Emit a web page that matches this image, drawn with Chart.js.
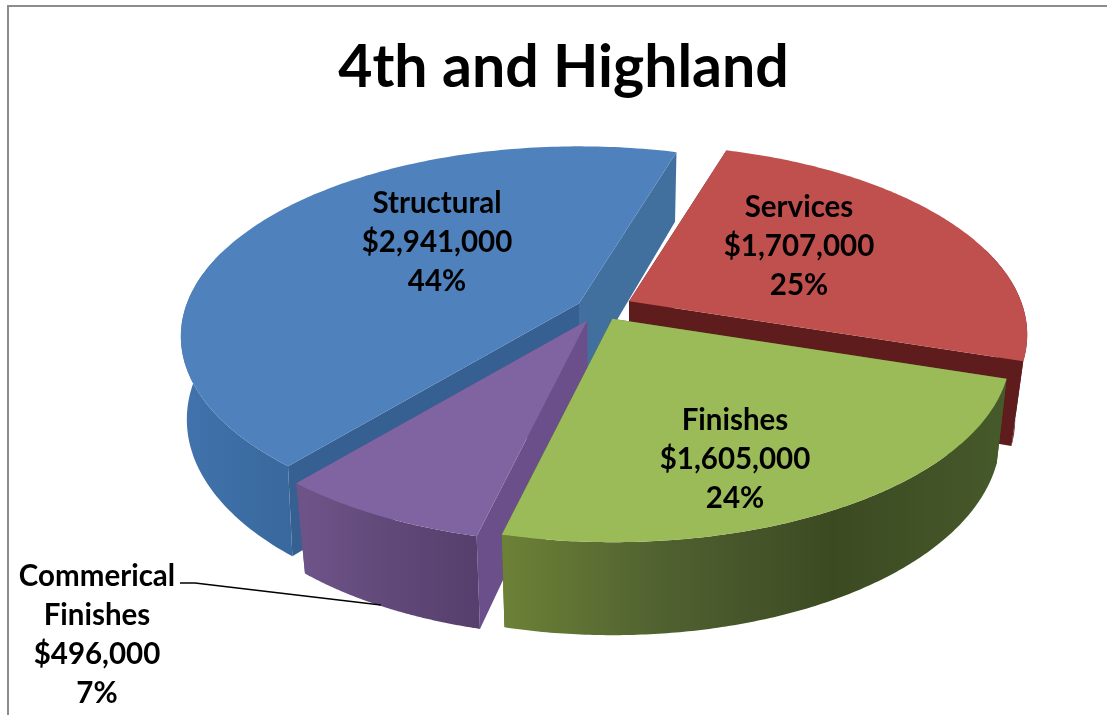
<!DOCTYPE html>
<html lang="en">

<head>
  <meta charset="UTF-8" />
  <title>4th and Highland</title>
  <script src="https://cdn.jsdelivr.net/npm/chart.js"></script>
  <style>
    body {
      margin: 0;
      background: #fff;
    }

    canvas {
      display: block;
    }
  </style>
</head>

<body>
  <canvas id="pie" width="1107" height="715"></canvas>

  <script>
    const categories = ['Structural', 'Services', 'Finishes', 'Commerical Finishes'];
    const costs = [2941000, 1707000, 1605000, 496000];
    const percents = ['44%', '25%', '24%', '7%'];
    const labelLines = [['Structural'], ['Services'], ['Finishes'], ['Commerical', 'Finishes']];
    const topColors = ['#4f81bd', '#c0504d', '#9bbb59', '#8064a2'];
    const explode = [24, 33, 25, 28];

    // side shading, left to right
    const wallColors = [
      ['#4272ab', '#3c6da4', '#38689c'],
      ['#5e1c1c', '#5e1c1c', '#5e1c1c'],
      ['#6c8136', '#4f6030', '#3c4a22', '#46592a'],
      ['#6e5388', '#604878', '#563f6c']
    ];
    const startFaceColors = ['#376092', '#5e1c1c', '#4a5c28', '#6b4f8a'];
    const endFaceColors = ['#41709f', '#5e1c1c', '#4a5c28', '#6b4f8a'];

    const paintOrder = [0, 1, 3, 2];
    const labelAnchors = [
      { x: 437, y: 203 },
      { x: 799, y: 207 },
      { x: 735, y: 420 },
      { x: 97, y: 576 }
    ];

    const pivot = { x: 600, y: 308.5 };
    const pieRadius = 392;
    const squash = 0.47;
    const perspective = 0.175;
    const bottomTaper = [0.985, 0.97, 0.975, 0.97];

    function project(radius, angle) {
      const X = radius * Math.cos(angle);
      const Y = radius * Math.sin(angle);
      const w = 1 / (1 - perspective * Y / pieRadius);
      return { x: X * w, y: Y * squash * w };
    }

    function fillPoints(ctx, pts, color) {
      ctx.beginPath();
      pts.forEach((p, i) => (i ? ctx.lineTo(p.x, p.y) : ctx.moveTo(p.x, p.y)));
      ctx.closePath();
      ctx.fillStyle = color;
      ctx.fill();
    }

    function drawSlice(ctx, arc, i) {
      const mid = (arc.startAngle + arc.endAngle) / 2;
      const shift = project(explode[i], mid);
      const apex = { x: pivot.x + shift.x, y: pivot.y + shift.y };
      const down = (p, angle) => ({
        x: apex.x + p.x * bottomTaper[i],
        y: apex.y + p.y + 81 + 12 * Math.sin(angle)
      });

      const top = [];
      const bottom = [];
      const wallTop = [];
      const wallBottom = [];
      const steps = 160;
      for (let s = 0; s <= steps; s++) {
        const a = arc.startAngle + (arc.endAngle - arc.startAngle) * s / steps;
        const p = project(arc.outerRadius, a);
        const t = { x: apex.x + p.x, y: apex.y + p.y };
        const b = down(p, a);
        top.push(t);
        bottom.push(b);
        // skip the back of the rim, the top face hides it anyway
        if (Math.sin(a) > -0.3) {
          wallTop.push(t);
          wallBottom.push(b);
        }
      }

      const apexLow = { x: apex.x, y: apex.y + 81 };
      fillPoints(ctx, [apex, top[0], bottom[0], apexLow], startFaceColors[i]);
      fillPoints(ctx, [apex, top[steps], bottom[steps], apexLow], endFaceColors[i]);

      const grad = ctx.createLinearGradient(
        Math.min(...wallBottom.map(p => p.x)), 0, Math.max(...wallBottom.map(p => p.x)), 0);
      wallColors[i].forEach((c, n) => grad.addColorStop(n / (wallColors[i].length - 1), c));
      fillPoints(ctx, wallTop.concat(wallBottom.slice().reverse()), grad);

      fillPoints(ctx, [apex].concat(top), topColors[i]);
    }

    const pie3d = {
      id: 'pie3d',
      beforeDraw(chart) {
        const ctx = chart.ctx;
        ctx.save();
        ctx.fillStyle = '#8c8c8c';
        ctx.fillRect(7, 5, 1100, 2);
        ctx.fillRect(7, 5, 2, 710);
        ctx.restore();
      },
      beforeDatasetsDraw(chart) {
        const ctx = chart.ctx;
        const arcs = chart.getDatasetMeta(0).data;
        ctx.save();
        paintOrder.forEach(i => drawSlice(ctx, arcs[i], i));

        // leader line for the small slice
        ctx.strokeStyle = '#000';
        ctx.lineWidth = 1.5;
        ctx.beginPath();
        ctx.moveTo(180, 583);
        ctx.lineTo(195, 583);
        ctx.lineTo(381, 605);
        ctx.stroke();

        ctx.fillStyle = '#000';
        ctx.font = 'bold 29.5px Lato';
        ctx.textAlign = 'center';
        ctx.textBaseline = 'middle';
        categories.forEach((c, i) => {
          const money = '$' + costs[i].toLocaleString('en-US');
          const lines = labelLines[i].concat([money, percents[i]]);
          lines.forEach((t, n) => ctx.fillText(t, labelAnchors[i].x, labelAnchors[i].y + n * 39));
        });
        ctx.restore();
        return false;
      }
    };

    new Chart(document.getElementById('pie'), {
      type: 'pie',
      data: {
        labels: categories,
        datasets: [{
          data: costs,
          backgroundColor: topColors,
          borderWidth: 0
        }]
      },
      options: {
        responsive: false,
        animation: false,
        rotation: -140,
        radius: pieRadius,
        layout: { padding: { left: 20 } },
        plugins: {
          legend: { display: false },
          tooltip: { enabled: false },
          title: {
            display: true,
            text: '4th and Highland',
            color: '#000',
            font: { family: 'Lato', size: 59, weight: 'bold' },
            padding: { top: 33, bottom: 10 }
          }
        }
      },
      plugins: [pie3d]
    });
  </script>
</body>

</html>
